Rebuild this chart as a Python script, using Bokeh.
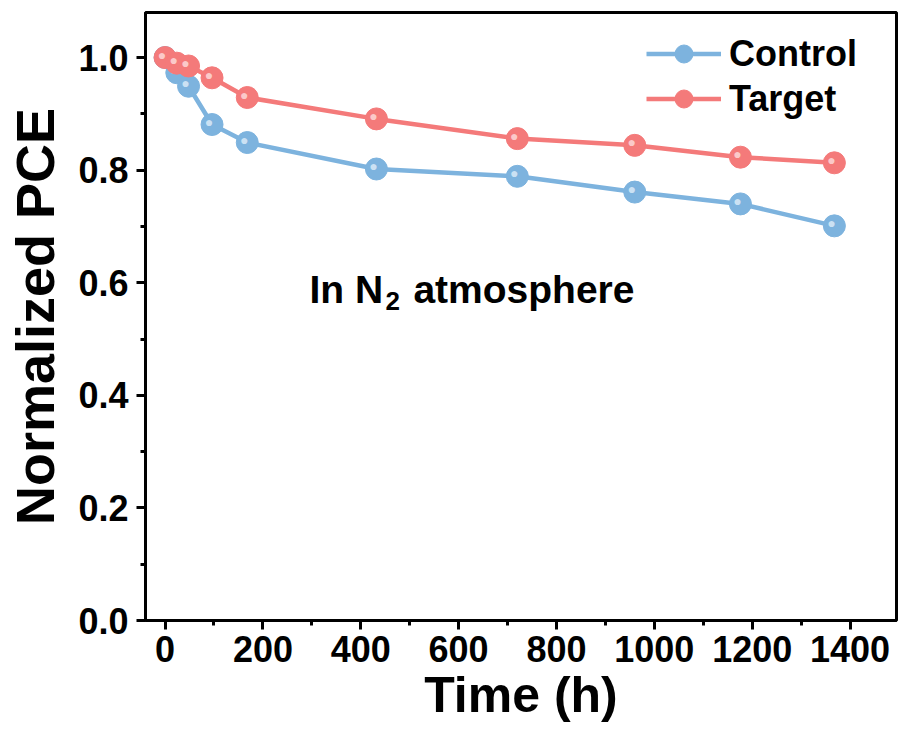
from bokeh.plotting import figure
from bokeh.models import Range1d, Legend, LegendItem, Label, FixedTicker, CustomJSTickFormatter
from bokeh.core.properties import value
from bokeh.embed import file_html
from bokeh.resources import INLINE

time_h = [0, 24, 48, 96, 168, 432, 720, 960, 1176, 1368]
control = [1.0, 0.973, 0.949, 0.881, 0.849, 0.802, 0.789, 0.761, 0.740, 0.701]
target = [1.0, 0.990, 0.985, 0.964, 0.929, 0.891, 0.856, 0.844, 0.823, 0.813]
x_ticks = [0, 200, 400, 600, 800, 1000, 1200, 1400]
x_minor = [100, 300, 500, 700, 900, 1100, 1300]
y_ticks = [0.0, 0.2, 0.4, 0.6, 0.8, 1.0]
y_minor = [0.1, 0.3, 0.5, 0.7, 0.9]

blue = "#7db3de"
blue_hi = "#e2effa"
red = "#f47a7a"
red_hi = "#fde0e0"
FONT = "Liberation Sans"

p = figure(width=901, height=735, output_backend="svg", toolbar_location=None,
           x_range=Range1d(-40, 1495), y_range=Range1d(0, 1.08),
           min_border_left=145, min_border_right=5, min_border_top=12, min_border_bottom=115)
p.grid.visible = False
p.outline_line_color = "black"
p.outline_line_width = 3
p.background_fill_color = "white"
p.border_fill_color = "white"

for ax in (p.xaxis[0], p.yaxis[0]):
    ax.axis_line_width = 3
    ax.major_tick_line_width = 3
    ax.minor_tick_line_width = 3
    ax.major_tick_out = 9
    ax.major_tick_in = 0
    ax.minor_tick_out = 5
    ax.minor_tick_in = 0
    ax.major_label_text_font = FONT
    ax.major_label_text_font_style = "bold"
    ax.major_label_text_font_size = "36px"
    ax.major_label_text_color = "black"
    ax.axis_label_text_font = FONT
    ax.axis_label_text_font_style = "bold"
    ax.axis_label_text_color = "black"

p.xaxis[0].ticker = FixedTicker(ticks=x_ticks, minor_ticks=x_minor)
p.yaxis[0].ticker = FixedTicker(ticks=y_ticks, minor_ticks=y_minor)
p.yaxis[0].formatter = CustomJSTickFormatter(code="return tick.toFixed(1);")
p.xaxis[0].major_label_standoff = 6
p.yaxis[0].major_label_standoff = 8
p.xaxis[0].axis_label = "Time (h)"
p.yaxis[0].axis_label = "Normalized PCE"
p.xaxis[0].axis_label_text_font_size = "50px"
p.yaxis[0].axis_label_text_font_size = "54px"
p.xaxis[0].axis_label_standoff = 2
p.yaxis[0].axis_label_standoff = 10

lc = p.line(time_h, control, line_color=blue, line_width=4.5)
sc = p.scatter(time_h, control, size=22, fill_color=blue, line_color=blue)
hc = p.text(time_h, control, text=value("●"), text_color=blue_hi, text_alpha=0.8,
            text_font_size="14px", text_align="center", text_baseline="middle",
            x_offset=-3, y_offset=-3)
lt = p.line(time_h, target, line_color=red, line_width=4.5)
st = p.scatter(time_h, target, size=22, fill_color=red, line_color=red)
ht = p.text(time_h, target, text=value("●"), text_color=red_hi, text_alpha=0.8,
            text_font_size="14px", text_align="center", text_baseline="middle",
            x_offset=-3, y_offset=-3)

legend = Legend(items=[LegendItem(label="Control", renderers=[lc, sc]),
                       LegendItem(label="Target", renderers=[lt, st])],
                location=(501, 499), padding=0, spacing=0, glyph_width=75, glyph_height=45,
                label_standoff=8, border_line_color=None, background_fill_alpha=0,
                label_text_font=FONT, label_text_font_style="bold", label_text_font_size="36px",
                label_text_color="black")
p.add_layout(legend)

common = dict(text_font=FONT, text_font_style="bold", text_color="black", text_baseline="alphabetic")
p.add_layout(Label(x=295, y=0.588, text="In N", text_font_size="39px", **common))
p.add_layout(Label(x=295, y=0.588, x_offset=76, y_offset=-12, text="2", text_font_size="26px", **common))
p.add_layout(Label(x=295, y=0.588, x_offset=104, text="atmosphere", text_font_size="39px", **common))

open("out.html", "w").write(file_html(p, INLINE))
